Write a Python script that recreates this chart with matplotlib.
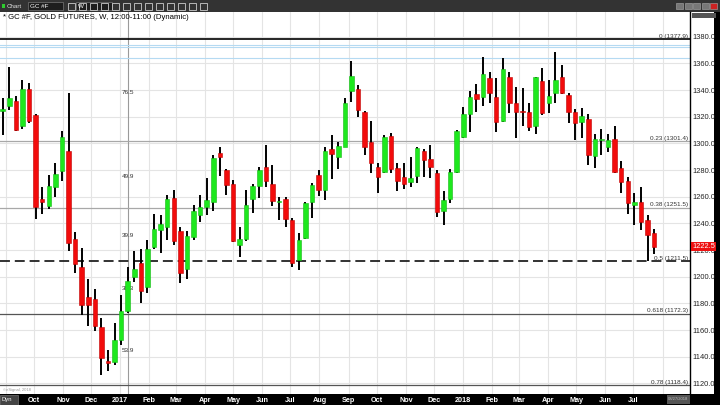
import numpy as np
import pandas as pd
import matplotlib
matplotlib.use('Agg')
import matplotlib.pyplot as plt
import matplotlib.dates as mdates
from matplotlib.patches import Rectangle

plt.rcParams['font.family'] = ['Liberation Sans', 'DejaVu Sans']

# weekly GC #F candles
weeks = pd.date_range('2016-08-29', periods=100, freq='W-MON')
opens = [1324, 1328, 1332, 1313, 1340.5, 1321, 1258.5, 1253, 1267, 1279,
         1294, 1228, 1207.5, 1185, 1183, 1162, 1137, 1136, 1152.5, 1174,
         1200, 1210, 1192.5, 1222.5, 1235, 1237, 1259, 1234, 1205.5, 1229.5,
         1246, 1252.5, 1256, 1292.5, 1280, 1269.5, 1223.75, 1228, 1258, 1268,
         1282.5, 1269.5, 1256.3, 1258, 1242.5, 1212.5, 1229, 1256, 1276, 1265,
         1296, 1289.5, 1297.5, 1339.5, 1341, 1323.75, 1301, 1282.5, 1278.75, 1305.75,
         1281.75, 1274.5, 1271, 1275.5, 1294.25, 1288, 1277.5, 1249.5, 1258, 1278.75,
         1305, 1322, 1337, 1334.5, 1348.75, 1334.5, 1317, 1350, 1330, 1324.5,
         1323.75, 1313, 1346.75, 1330.5, 1338, 1349.5, 1336.25, 1323.75, 1316.25, 1318.25,
         1290.75, 1302.5, 1297, 1303, 1281.25, 1272, 1253.75, 1256.25, 1242.5, 1232.5]
highs = [1334, 1357, 1335.5, 1347.5, 1345.5, 1322, 1267, 1276, 1285, 1309.5,
         1338, 1233.5, 1221.5, 1198, 1190.5, 1169, 1145, 1165, 1186, 1207.5,
         1219.5, 1220.5, 1227.5, 1247, 1246, 1261, 1265, 1237.5, 1234, 1254,
         1261, 1274, 1291, 1297.5, 1280.5, 1272.5, 1237, 1265, 1269.5, 1282.5,
         1298.75, 1284, 1260, 1259.5, 1244, 1233, 1256, 1270.5, 1280, 1297.5,
         1306, 1301, 1334, 1362, 1344, 1324, 1317, 1285, 1306, 1308,
         1285, 1285, 1290, 1297.5, 1295.5, 1298.75, 1280, 1264.5, 1280.5, 1310,
         1327, 1339.5, 1344.5, 1365, 1353.75, 1348.75, 1363.75, 1353.25, 1342.5, 1341.25,
         1330, 1350, 1356.25, 1347.5, 1368.75, 1358.75, 1337.5, 1325.5, 1326.25, 1322,
         1307, 1311, 1307, 1313, 1286.75, 1275, 1262.5, 1267.5, 1246.25, 1236]
lows = [1306, 1325, 1309, 1311, 1315.5, 1243, 1247, 1251, 1260, 1272,
        1219, 1202.5, 1171, 1163, 1159, 1126, 1129, 1134, 1149, 1172.5,
        1196, 1180, 1187.5, 1221, 1218, 1227.5, 1224, 1195.5, 1198, 1227.5,
        1241, 1246, 1249, 1275.5, 1261, 1226, 1215, 1227, 1248, 1259,
        1267, 1253, 1242.5, 1237.5, 1207.5, 1205, 1228, 1244, 1260.5, 1257.5,
        1273, 1281, 1297, 1331.25, 1319.5, 1291, 1278, 1263, 1277.5, 1278,
        1264, 1266, 1267.5, 1270, 1274.5, 1273.75, 1245, 1238.75, 1255.5, 1278,
        1303.75, 1308.75, 1323.75, 1328, 1330, 1308.75, 1316.25, 1323, 1303.75, 1313,
        1309.5, 1306.75, 1321.25, 1322.5, 1330, 1336.75, 1315.5, 1302.5, 1304.25, 1283.75,
        1281.25, 1291.25, 1293.25, 1277.5, 1262.5, 1247, 1238.75, 1235, 1211.5, 1217]
closes = [1326, 1334, 1310, 1341, 1317, 1252.5, 1256, 1268, 1277, 1304.5,
          1225, 1209.5, 1179, 1179, 1163, 1139, 1135, 1152.5, 1174, 1197,
          1205.5, 1189, 1221, 1236, 1239.5, 1258, 1227, 1202.5, 1230.5, 1249,
          1252, 1257.5, 1289, 1289.5, 1269, 1227, 1228, 1254, 1268, 1280,
          1272, 1257, 1257, 1243, 1210.5, 1227.5, 1255.5, 1269, 1265, 1294,
          1291.75, 1298, 1330, 1350.5, 1325, 1297.5, 1285, 1275, 1305, 1280.5,
          1272, 1269.5, 1274, 1296.75, 1287.5, 1282.5, 1248.75, 1257.5, 1278.75, 1309,
          1322, 1334.5, 1333, 1352, 1337.5, 1315.75, 1355.75, 1330, 1323.75, 1323.5,
          1312, 1349.5, 1323, 1335.75, 1347.5, 1337.5, 1323.75, 1315, 1320.5, 1291.25,
          1303.25, 1303, 1302.5, 1278.25, 1270.75, 1255, 1256.25, 1241.25, 1231.25, 1222.5]

fib_levels = [1377.9, 1301.4, 1251.5, 1211.5, 1172.3, 1118.4]
fib_names = ['0', '0.23', '0.38', '0.5', '0.618', '0.78']
blue_levels = [1373.8, 1372.0, 1363.8]
left_vals = [1338, 1275, 1231, 1191, 1145]
left_names = ['76.5', '49.9', '39.9', '38.3', '53.9']

x = mdates.date2num(weeks)
o = np.array(opens); h = np.array(highs); l = np.array(lows); c = np.array(closes)

fig = plt.figure(figsize=(7.2, 4.05), dpi=100)
fig.patch.set_facecolor('black')
W, H = 720.0, 405.0

# white strip for price scale
fig.patches.append(Rectangle((690 / W, 11 / H), 24 / W, 382 / H, transform=fig.transFigure,
                             facecolor='white', edgecolor='none', zorder=-1))
# toolbar
fig.patches.append(Rectangle((0, 1 - 12 / H), 1, 12 / H, transform=fig.transFigure,
                             facecolor='#333333', edgecolor='none', zorder=-1))
fig.patches.append(Rectangle((2 / W, 1 - 8 / H), 3 / W, 4 / H, transform=fig.transFigure,
                             facecolor='#2ecc2e', edgecolor='none', zorder=2))
fig.text(7 / W, 1 - 6 / H, 'Chart', color='#dddddd', fontsize=4.5, va='center')
for bx, bw, txt in [(28, 35, 'GC #F'), (76, 36, 'W')]:
    fig.patches.append(Rectangle((bx / W, 1 - 10 / H), bw / W, 8 / H, transform=fig.transFigure,
                                 facecolor='#1e1e1e', edgecolor='#777777', lw=0.5, zorder=2))
    fig.text((bx + 2) / W, 1 - 6 / H, txt, color='white', fontsize=4.5, va='center', zorder=3)
for ix in range(68, 205, 11):
    fig.patches.append(Rectangle((ix / W, 1 - 9.5 / H), 7 / W, 7 / H, transform=fig.transFigure,
                                 facecolor='none', edgecolor='#cccccc', lw=0.6, zorder=2))
for k, col in enumerate(['#777777', '#777777', '#777777', '#777777', '#cc2222']):
    fig.patches.append(Rectangle(((676 + 8.5 * k) / W, 1 - 9 / H), 7 / W, 6 / H, transform=fig.transFigure,
                                 facecolor=col, edgecolor='#aaaaaa', lw=0.4, zorder=2))

ax = fig.add_axes([0, 11 / H, 690 / W, 382 / H])
ax.set_facecolor('white')

t0 = x[0] - 2.9
ax.set_xlim(t0, t0 + 734.1)
ax.set_ylim(1112, 1398.5)

# grid
months = pd.date_range('2016-09-01', '2018-08-01', freq='MS')
mnum = mdates.date2num(months)
for m in mnum:
    ax.axvline(m, color='#e4e4e4', lw=0.8, zorder=0)
for yv in range(1120, 1381, 20):
    ax.axhline(yv, color='#e4e4e4', lw=0.8, zorder=0)
ax.axvline(x[0] + 133, color='#9a9a9a', lw=0.8, zorder=0.5)

for yv in blue_levels:
    ax.axhline(yv, color='#b5daf2', lw=0.8, zorder=0.6)

styles = {'0': ('black', 1.2, '-'), '0.23': ('#a8a8a8', 0.9, '-'), '0.38': ('#a8a8a8', 0.9, '-'),
          '0.5': ('#222222', 1.3, (0, (5.5, 2.7))), '0.618': ('#555555', 0.9, '-'), '0.78': ('#555555', 0.9, '-')}
for lv, nm in zip(fib_levels, fib_names):
    col, lw, ls = styles[nm]
    ax.axhline(lv, color=col, lw=lw, ls=ls, zorder=0.8)
    ax.text(0.997, lv + 0.6, '%s (%.1f)' % (nm, lv), transform=ax.get_yaxis_transform(),
            ha='right', va='bottom', fontsize=4.6, color='#333333', zorder=5)

for lv, nm in zip(left_vals, left_names):
    ax.text(x[0] + 133, lv, nm, ha='center', va='center', fontsize=4.6, color='#333333', zorder=1)

# candles
up = c >= o
body_col = np.where(up, '#1ee81e', '#f20c0c')
edge_col = np.where(up, '#14b814', '#c00000')
ax.vlines(x, l, h, color='black', lw=1.4, zorder=2)
bottoms = np.minimum(o, c)
heights = np.maximum(np.abs(c - o), 0.8)
ax.bar(x, heights, bottom=bottoms, width=4.8, color=body_col, edgecolor=edge_col,
       linewidth=0.4, zorder=3)

ax.text(0.004, 1 - 5.8 / 382, '* GC #F, GOLD FUTURES, W, 12:00-11:00 (Dynamic)',
        transform=ax.transAxes, fontsize=5.6, color='black', va='center', ha='left')
ax.text(0.004, 2.5 / 382, '\u00a9eSignal, 2018', transform=ax.transAxes, fontsize=3.0,
        color='#999999', va='bottom')

# axes
ax.yaxis.tick_right()
ax.set_yticks(range(1120, 1381, 20))
ax.set_yticklabels(['%.1f' % v for v in range(1120, 1381, 20)])
ax.tick_params(axis='y', length=0, pad=2, labelsize=5.4, labelcolor='#222222')

# month labels (first and last month hidden under the Dyn / date boxes)
label_months = months[1:-1]
mlabels = []
for mm in label_months:
    if mm.month == 1:
        mlabels.append(str(mm.year))
    else:
        mlabels.append(mm.strftime('%b'))
ax.set_xticks(mdates.date2num(label_months))
ax.set_xticklabels(mlabels)
ax.tick_params(axis='x', length=0, pad=2.5, labelsize=5.2, labelcolor='white')
for tl in ax.get_xticklabels():
    tl.set_fontweight('bold')

for sp in ['top', 'left', 'bottom']:
    ax.spines[sp].set_visible(False)
ax.spines['right'].set_color('black')
ax.spines['right'].set_linewidth(1.0)

# last price tag
ax.annotate('%.1f' % closes[-1], xy=(1, closes[-1]), xycoords=ax.get_yaxis_transform(),
            xytext=(1.5, 0), textcoords='offset points', ha='left', va='center',
            fontsize=5.4, color='white', zorder=6,
            bbox=dict(boxstyle='square,pad=0.15', facecolor='#ee1111', edgecolor='none'))

# bottom bar extras
fig.patches.append(Rectangle((0, 0.5 / H), 18 / W, 10 / H, transform=fig.transFigure,
                             facecolor='#444444', edgecolor='#888888', lw=0.4, zorder=2))
fig.text(1 / W, 5.5 / H, 'Dyn', color='white', fontsize=4.2, va='center', zorder=3)
fig.patches.append(Rectangle((667 / W, 1 / H), 23 / W, 9 / H, transform=fig.transFigure,
                             facecolor='#555555', edgecolor='none', zorder=2))
fig.text(678.5 / W, 5.5 / H, '08/27/2018', color='#bbbbbb', fontsize=3.0, va='center',
         ha='center', zorder=3)
fig.patches.append(Rectangle((692 / W, 1 - 18 / H), 24 / W, 5 / H, transform=fig.transFigure,
                             facecolor='#555555', edgecolor='none', zorder=2))

fig.savefig('out.png', dpi=100, facecolor=fig.get_facecolor())
